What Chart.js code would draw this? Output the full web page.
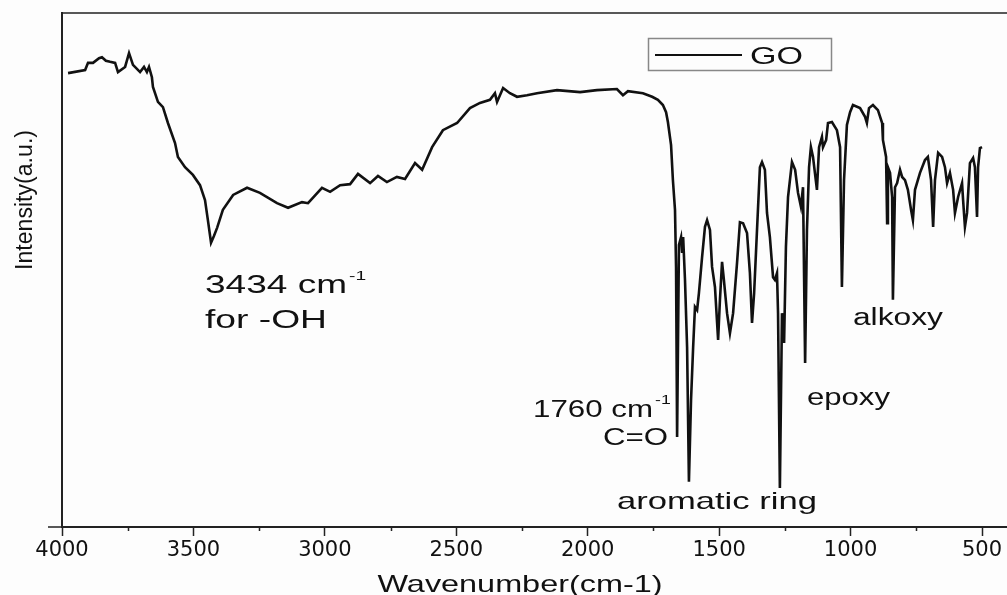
<!DOCTYPE html>
<html>
<head>
<meta charset="utf-8">
<title>FTIR GO</title>
<script src="https://cdn.jsdelivr.net/npm/chart.js@4.4.1/dist/chart.umd.min.js"></script>
<style>
  body { margin: 0; background: #fdfdfd; }
  #wrap { width: 1007px; height: 595px; }
</style>
</head>
<body>
<div id="wrap"><canvas id="ftirChart"></canvas></div>
<script>
// spectrum (wavenumber in cm-1, intensity in a.u.)
const wavenumber = [3977,3912,3901,3882,3859,3848,3833,3817,3798,3787,
  3760,3745,3730,3703,3688,3677,3669,3658,3654,3635,
  3616,3597,3570,3559,3532,3502,3475,3456,3445,3433,
  3422,3410,3388,3349,3296,3247,3182,3140,3087,3064,
  3011,2980,2942,2904,2874,2828,2798,2764,2726,2695,
  2657,2630,2592,2551,2497,2448,2410,2372,2353,2345,
  2322,2296,2269,2231,2193,2117,2029,1965,1889,1866,
  1847,1790,1755,1733,1714,1702,1695,1683,1676,1668,
  1664,1660,1653,1645,1641,1637,1630,1622,1615,1607,
  1599,1592,1584,1577,1565,1554,1546,1535,1527,1516,
  1504,1497,1489,1482,1470,1459,1447,1432,1421,1409,
  1394,1383,1375,1367,1356,1345,1337,1326,1318,1307,
  1295,1288,1280,1276,1269,1261,1253,1246,1238,1223,
  1211,1200,1189,1181,1173,1166,1158,1151,1143,1128,
  1120,1109,1105,1093,1086,1071,1052,1040,1033,1025,
  1014,1002,991,964,945,938,930,915,896,880,
  877,865,861,858,850,842,839,831,823,812,
  804,793,782,770,763,755,736,717,706,694,
  686,679,667,652,641,633,622,610,603,591,
  576,572,565,557,546,534,527,519,515,508,500];

const intensity = [88.3,88.9,90.3,90.3,91.2,91.4,90.7,90.5,90.3,88.5,
  89.5,92.2,89.9,88.5,89.5,88.5,89.5,87.5,85.6,82.7,
  81.7,78.6,74.7,72.0,70.0,68.5,66.5,63.6,59.7,55.3,
  56.6,58.2,61.7,64.6,66.0,65.0,63.0,62.1,63.2,63.0,
  66.0,65.2,66.5,66.7,68.7,66.9,68.3,67.1,68.1,67.7,
  70.8,69.5,73.9,77.2,78.6,81.5,82.5,83.1,84.4,82.7,
  85.4,84.4,83.7,84.0,84.4,85.0,84.6,85.0,85.2,84.0,
  84.8,84.4,83.7,83.1,82.1,80.7,78.8,74.3,67.5,61.7,
  50.6,17.5,54.9,56.4,53.3,56.4,48.1,35.0,8.8,24.7,
  35.0,42.8,42.2,45.5,52.5,58.4,59.7,57.8,50.6,46.7,
  36.4,44.2,51.6,48.1,41.6,37.7,41.6,51.4,59.3,59.1,
  57.2,49.4,39.7,45.5,57.8,70.0,71.0,69.5,61.1,56.4,
  48.6,48.1,49.4,41.6,7.6,41.6,35.8,54.5,64.2,71.0,
  69.5,65.0,62.3,66.1,31.9,57.8,70.0,73.9,72.0,65.6,
  73.9,75.9,73.9,75.3,78.6,78.8,77.2,73.9,46.7,67.5,
  78.2,80.7,82.1,81.5,79.8,78.6,81.5,82.1,81.1,78.6,
  75.3,72.0,59.1,70.0,68.9,64.2,44.2,66.1,66.9,69.5,
  68.1,67.5,65.6,61.7,59.7,65.6,68.9,71.4,72.0,67.5,
  58.4,67.5,72.8,72.0,70.0,66.9,68.9,65.6,61.1,64.2,
  66.9,63.6,58.4,61.1,70.8,71.8,70.0,60.3,70.0,73.7,73.9];

const xTicks = [4000, 3500, 3000, 2500, 2000, 1500, 1000, 500];
const xMinorTicks = [3750, 3250, 2750, 2250, 1750, 1250, 750];

// peak labels, anchored in data units (left edge of text, baseline)
const peakLabels = ['3434 cm', 'for -OH', '1760 cm', 'C=O', 'aromatic ring', 'epoxy', 'alkoxy'];
const peakLabelWn = [3456, 3456, 2208, 1942, 1889, 1166, 991];
const peakLabelInt = [45.5, 38.7, 21.4, 16.0, 3.5, 23.7, 39.3];
const peakLabelSup = [true, false, true, false, false, false, false];

// text looks like it was stretched sideways in the source image
const labelSize = [25, 25, 23, 23, 24, 23, 23];
const labelWidth = [142, 122, 120, 65, 200, 83, 90];

const seriesName = 'GO';
const textColor = '#111';
const fontName = '"Liberation Sans", Arial, sans-serif';

function stretchText(ctx, text, x, y, size, width, align) {
  ctx.font = size + 'px ' + fontName;
  const w = ctx.measureText(text).width;
  const sx = width / w;
  ctx.save();
  ctx.translate(x, y);
  ctx.scale(sx, 1);
  ctx.textAlign = 'left';
  ctx.textBaseline = 'alphabetic';
  const start = align === 'center' ? -w / 2 : 0;
  ctx.fillText(text, start, 0);
  ctx.restore();
  return sx;
}

const overlay = {
  id: 'overlay',
  beforeDraw(chart) {
    const ctx = chart.ctx;
    ctx.save();
    ctx.fillStyle = '#fdfdfd';
    ctx.fillRect(0, 0, chart.width, chart.height);
    ctx.restore();
  },
  afterDraw(chart) {
    const ctx = chart.ctx;
    const a = chart.chartArea;
    const xs = chart.scales.x;
    const ys = chart.scales.y;
    ctx.save();

    // top frame line and the little stub of x axis left of the y axis
    ctx.strokeStyle = '#222';
    ctx.lineWidth = 1.5;
    ctx.beginPath();
    ctx.moveTo(a.left, a.top);
    ctx.lineTo(a.right, a.top);
    ctx.moveTo(a.left - 14, a.bottom);
    ctx.lineTo(a.left, a.bottom);
    // minor ticks
    xMinorTicks.forEach(v => {
      const px = Math.round(xs.getPixelForValue(v)) + 0.5;
      ctx.moveTo(px, a.bottom);
      ctx.lineTo(px, a.bottom + 4);
    });
    ctx.stroke();

    // peak annotations
    ctx.fillStyle = textColor;
    peakLabels.forEach((t, i) => {
      const px = xs.getPixelForValue(peakLabelWn[i]);
      const py = ys.getPixelForValue(peakLabelInt[i]);
      const sx = stretchText(ctx, t, px, py, labelSize[i], labelWidth[i]);
      if (peakLabelSup[i]) {
        ctx.font = '13px ' + fontName;
        const sw = ctx.measureText('-1').width * sx;
        stretchText(ctx, '-1', px + labelWidth[i] + 2, py - 13, 13, sw);
      }
    });

    // legend box
    const ds = chart.data.datasets[0];
    ctx.strokeStyle = '#888';
    ctx.lineWidth = 1.5;
    ctx.strokeRect(648.5, 38.5, 183, 32);
    ctx.strokeStyle = ds.borderColor;
    ctx.lineWidth = 2;
    ctx.beginPath();
    ctx.moveTo(655, 55);
    ctx.lineTo(742, 55);
    ctx.stroke();
    stretchText(ctx, ds.label, 750, 64, 24, 53);

    // axis titles
    stretchText(ctx, 'Wavenumber(cm-1)', 520, 592, 24, 285, 'center');
    ctx.save();
    ctx.translate(32, 200);
    ctx.rotate(-Math.PI / 2);
    stretchText(ctx, 'Intensity(a.u.)', 0, 0, 23, 140, 'center');
    ctx.restore();

    ctx.restore();
  }
};

const ctx = document.getElementById('ftirChart').getContext('2d');
const ftirChart = new Chart(ctx, {
  type: 'line',
  data: {
    datasets: [{
      label: seriesName,
      data: wavenumber.map((w, i) => ({ x: w, y: intensity[i] })),
      borderColor: '#111',
      borderWidth: 2.6,
      pointRadius: 0,
      tension: 0,
      fill: false
    }]
  },
  options: {
    responsive: true,
    maintainAspectRatio: false,
    animation: false,
    layout: { padding: { top: 13, right: 0, left: 0, bottom: 0 } },
    plugins: {
      legend: { display: false },
      tooltip: { enabled: false }
    },
    scales: {
      x: {
        type: 'linear',
        reverse: true,
        min: 405,
        max: 4000,
        afterBuildTicks: scale => {
          scale.ticks = xTicks.map(v => ({ value: v }));
        },
        afterFit: scale => { scale.height = 68; },
        grid: {
          display: true,
          drawOnChartArea: false,
          drawTicks: true,
          tickLength: 9,
          tickWidth: 1.5,
          tickColor: '#222'
        },
        border: { display: true, color: '#222', width: 2 },
        ticks: {
          color: textColor,
          padding: 2,
          maxRotation: 0,
          autoSkip: false,
          callback: v => String(v),
          font: { family: '"DejaVu Sans", sans-serif', size: 21 }
        }
      },
      y: {
        min: 0,
        max: 100,
        afterFit: scale => { scale.width = 62; },
        grid: { display: false },
        border: { display: true, color: '#222', width: 2 },
        ticks: { display: false }
      }
    }
  },
  plugins: [overlay]
});
</script>
</body>
</html>
